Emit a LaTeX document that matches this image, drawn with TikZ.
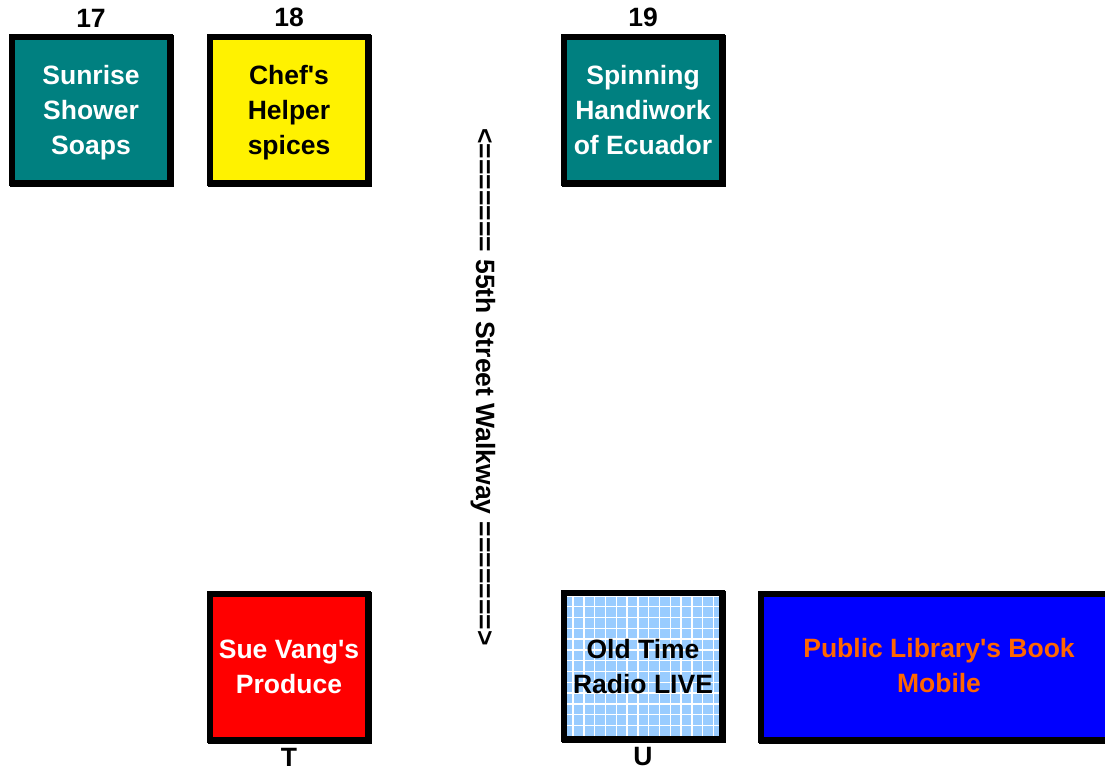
\documentclass[tikz,border=0pt]{standalone}
\usepackage{fontspec}
\setmainfont{Liberation Sans}
\usetikzlibrary{positioning,shadows}
\definecolor{stallteal}{HTML}{008080}
\definecolor{gridblue}{HTML}{99CCFF}
\definecolor{bookorange}{HTML}{FF6600}
\newcommand{\stallfont}{\fontsize{26.5}{35}\selectfont\bfseries}
\newcommand{\q}{\textquotesingle}

\begin{document}
\begin{tikzpicture}[x=1pt,y=-1pt,node distance=7pt,
		stall/.style={draw=black,line width=5.5pt,inner sep=0pt,minimum width=158pt,minimum height=146pt,
			align=center,font=\stallfont,text depth=0pt,
			general shadow={shadow xshift=1.2pt,shadow yshift=-1.2pt,draw=black,line width=5.5pt}},
		tag/.style={inner sep=0pt,font=\stallfont}]
	\useasboundingbox (0,0) rectangle (1105,771);
	% top row
	\node[stall,fill=stallteal,text=white] (soaps) at (91,110) {Sunrise\\Shower\\Soaps};
	\node[stall,fill=yellow] (spices) at (289,110) {Chef\q s\\Helper\\spices};
	\node[stall,fill=stallteal,text=white] (ecuador) at (643,110) {Spinning\\Handiwork\\of Ecuador};
	\node[tag] (n17) [above=of soaps] {17};
	\node[tag] (n18) [above=of spices] {18};
	\node[tag] (n19) [above=of ecuador] {19};
	% bottom row
	\node[stall,fill=red,text=white] (produce) at (289,667) {Sue Vang\q s\\Produce};
	\node[stall,fill=gridblue,text depth=-4pt,
		path picture={\draw[white,line width=1.5pt] (path picture bounding box.south west) grid[step=10.8pt] (path picture bounding box.north east);}]
		(radio) at (643,666) {Old Time\\Radio LIVE};
	\node[stall,fill=blue,text=bookorange,minimum width=356pt,text depth=4pt] (bookmobile) at (939,667) {Public Library\q s Book\\Mobile};
	\node[tag] (nT) [below=5pt of produce] {T};
	\node[tag] (nU) [below=5pt of radio] {U};
	% walkway
	\node[tag,rotate=-90] (walkway) at (483,387) {<======= 55th Street Walkway =======>};
\end{tikzpicture}
\end{document}
